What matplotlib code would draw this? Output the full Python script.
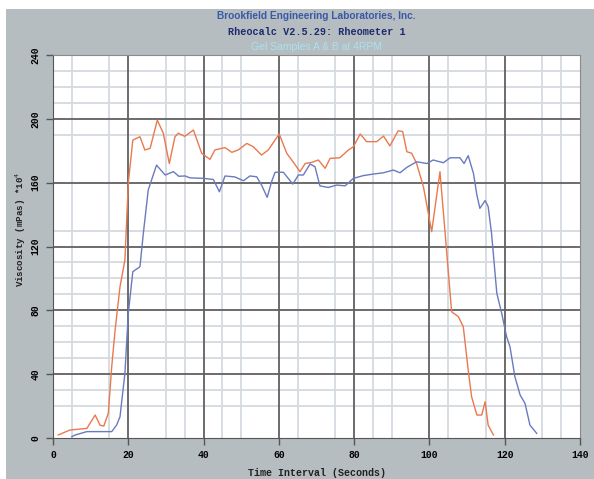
import numpy as np
import matplotlib
matplotlib.use("Agg")
import matplotlib.pyplot as plt
from matplotlib.patches import Rectangle

# sample A (orange) - time (s), viscosity
a_t = [1.4, 4.5, 9, 11.2, 12.5, 13.5, 14.7, 15.6, 16.5, 17.8,
       19.1, 20, 21.2, 23.1, 24.4, 25.8, 27.7, 29.3, 30.9, 32.4,
       33.3, 35, 37.3, 39.5, 41.7, 43, 45.7, 47.5, 49.2, 51.5,
       53.2, 55.4, 57.2, 60.1, 62.1, 63.8, 65.6, 67, 68.7, 70.5,
       72.3, 73.6, 76.2, 78.5, 79.8, 81.6, 83.3, 86, 87.8, 89.5,
       91.7, 92.9, 94, 95.3, 96.6, 98.4, 100.6, 102.8, 104.1, 105.9,
       107.7, 109, 110.3, 111.2, 112.6, 113.9, 114.8, 115.6, 117]
a_v = [1.9, 5, 6, 14.4, 8, 7.5, 15.6, 44.7, 67.7, 94.8,
       111.5, 159.6, 186.7, 188.8, 180.5, 181.5, 199.2, 191, 172, 188.8,
       191, 189, 193, 178.4, 174.6, 180.5, 182, 179, 180.5, 184.6,
       182.5, 177.3, 180.5, 190.5, 178.4, 173, 166.9, 172, 172.7, 174.2,
       169, 175.2, 175.6, 180.5, 182.5, 190.5, 185.7, 185.7, 189.2, 183,
       192.5, 192, 179.4, 178.4, 172, 157.5, 129.3, 166.9, 130.3, 79.1,
       76, 69.7, 42.6, 25.9, 14.4, 14.4, 22.7, 8.1, 1.9]

# sample B (blue)
b_t = [5, 5.9, 9, 15.6, 16.9, 17.8, 19.1, 20, 21.2, 23.1,
       24, 25.3, 27.5, 29.8, 32, 33.4, 35.1, 36.4, 40, 42.6,
       44.2, 45.7, 48.3, 50.6, 52.3, 54.1, 55.4, 56.9, 58.1, 59,
       61.2, 63.7, 65.2, 66.5, 68.3, 69.6, 70.9, 73.1, 75.4, 77.6,
       79.8, 82.4, 85.1, 87.8, 90.4, 92.2, 94, 96.6, 99.3, 101,
       103.7, 105.5, 108.1, 109.2, 110.3, 111.7, 112.6, 113.4, 114.8, 115.6,
       116.5, 117.9, 119.2, 120.5, 121.4, 122.7, 124.1, 125.4, 126.7, 128.5]
b_v = [0.8, 1.9, 4, 4, 8.1, 13.3, 40.5, 78, 104.2, 107.3,
       128.3, 155.4, 171, 164.8, 166.9, 164, 164.2, 163, 162.7, 162,
       154.3, 164.2, 163.6, 161.2, 164.2, 163.7, 158.5, 150.8, 160.8, 166.5,
       166.5, 159.1, 164.8, 164.8, 171.7, 170, 158, 157, 158.5, 158,
       162.7, 164.4, 165.4, 166.2, 167.9, 166.2, 169.6, 173.1, 172, 174.2,
       172.5, 175.6, 175.6, 172, 176.9, 165.8, 152.3, 143.9, 148.8, 145,
       128.3, 90.7, 78.1, 63.5, 57.2, 38.4, 26.9, 21.7, 8.1, 2.9]

x_ticks = [0, 20, 40, 60, 80, 100, 120, 140]
y_ticks = [0, 40, 80, 120, 160, 200, 240]
# the light grid lines are not evenly spaced in the original
x_minor = [5, 15, 30, 35, 45, 50, 65, 75, 85, 90, 105, 115, 130, 135]
y_minor = [20, 30, 50, 60, 70, 90, 100, 110, 130, 190, 210, 220, 230]

W, H = 594, 479
BG = "#b6bdc1"
MONO = "Liberation Mono"

fig = plt.figure(figsize=(W / 100, H / 100), dpi=100, facecolor="white")
fig.patches.append(Rectangle((6 / W, 0), 1, (H - 9) / H, transform=fig.transFigure,
                             facecolor=BG, edgecolor="none", zorder=-10))

ax = fig.add_axes([53 / W, (H - 438) / H, 527 / W, 383 / H])
ax.set_facecolor("white")
ax.set_xlim(0, 140)
ax.set_ylim(0, 240)

for x in x_minor:
    ax.axvline(x, color="#d4dae0", lw=1.3, zorder=1)
for y in y_minor:
    ax.axhline(y, color="#d4dae0", lw=1.3, zorder=1)
for x in x_ticks[1:-1]:
    ax.axvline(x, color="#606060", lw=1.3, zorder=2)
for y in y_ticks[1:-1]:
    ax.axhline(y, color="#606060", lw=1.3, zorder=2)

ax.plot(a_t, a_v, color="#e9794e", lw=1.0, zorder=3)
ax.plot(b_t, b_v, color="#6a7abf", lw=1.0, zorder=3)

ax.set_xticks(x_ticks)
ax.set_yticks(y_ticks)
ax.set_xticklabels([str(v) for v in x_ticks], fontfamily=MONO, fontweight="bold", fontsize=7)
ax.set_yticklabels([str(v) for v in y_ticks], fontfamily=MONO, fontweight="bold", fontsize=7,
                   rotation=90, va="center")
ax.tick_params(axis="both", direction="out", length=5, width=1, color="#555555", pad=4)
for side in ["left", "bottom"]:
    ax.spines[side].set_color("#555555")
for side in ["top", "right"]:
    ax.spines[side].set_color("#8a8a8a")

# titles
cx = (53 + 580) / 2 / W
fig.text(cx, 1 - 16 / H, "Brookfield Engineering Laboratories, Inc.", ha="center", va="center",
         family="Liberation Sans", fontweight="bold", fontsize=7.3, color="#3a58a8")
fig.text(cx, 1 - 32 / H, "Rheocalc V2.5.29: Rheometer 1", ha="center", va="center",
         family=MONO, fontweight="bold", fontsize=7.3, color="#1e2a6e")
fig.text(cx, 1 - 47 / H, "Gel Samples A & B at 4RPM", ha="center", va="center",
         family="Liberation Sans", fontsize=7.5, color="#a8e2ee")

fig.text(cx, 1 - 473 / H, "Time Interval (Seconds)", ha="center", va="center",
         family=MONO, fontweight="bold", fontsize=7.2, color="#222222")
fig.text(21 / W, 1 - 229 / H, "Viscosity (mPas) *10$^{4}$", ha="center", va="center",
         rotation=90, family=MONO, fontweight="bold", fontsize=6.6, color="#222222")

fig.savefig("out.png", dpi=100, facecolor=fig.get_facecolor())
